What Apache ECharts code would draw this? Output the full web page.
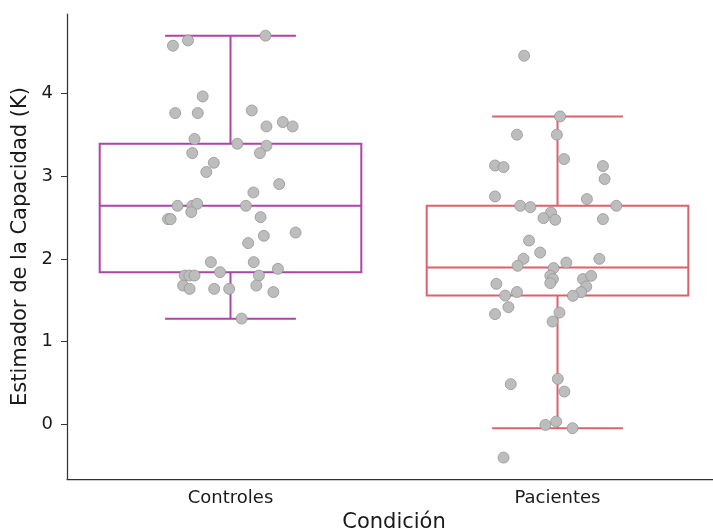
<!DOCTYPE html>
<html>
<head>
<meta charset="utf-8">
<script src="https://cdn.jsdelivr.net/npm/echarts@6/dist/echarts.min.js"></script>
<style>
  html, body { margin: 0; padding: 0; background: #fff; }
  #chart { width: 713px; height: 532px; }
</style>
</head>
<body>
<div id="chart"></div>
<script>
var categories = ['Controles', 'Pacientes']
var boxColors = ['#ad44a8', '#d9636d']
var yTicks = [0, 1, 2, 3, 4]

// [low whisker, Q1, median, Q3, high whisker]
var controlesBox = [1.276, 1.840, 2.642, 3.392, 4.698]
var pacientesBox = [-0.046, 1.557, 1.896, 2.642, 3.722]

// horizontal offset of each point from its category centre (stripplot jitter)
var controlesJitter = [-0.176, -0.130, 0.107, -0.085, -0.169, -0.100, 0.065, 0.110, 0.160, 0.190,
  -0.110, 0.021, 0.110, -0.117, 0.090, -0.051, -0.074, 0.149, 0.070, -0.162,
  -0.117, -0.102, -0.120, 0.047, -0.191, -0.183, 0.092, 0.102, 0.199, 0.054,
  -0.060, 0.071, 0.145, -0.032, -0.140, -0.126, -0.110, 0.087, -0.145, -0.125,
  -0.050, -0.004, 0.079, 0.131, 0.034]
var controlesValues = [4.577, 4.641, 4.698, 3.964, 3.763, 3.763, 3.794, 3.601, 3.654, 3.601,
  3.449, 3.392, 3.368, 3.279, 3.279, 3.162, 3.050, 2.904, 2.803, 2.642,
  2.642, 2.666, 2.566, 2.642, 2.481, 2.481, 2.505, 2.279, 2.319, 2.191,
  1.961, 1.961, 1.880, 1.840, 1.799, 1.799, 1.799, 1.799, 1.678, 1.638,
  1.638, 1.638, 1.678, 1.599, 1.279]

var pacientesJitter = [-0.102, 0.008, -0.124, -0.002, 0.020, -0.191, -0.165, 0.139, 0.144, -0.191,
  -0.114, -0.083, 0.090, 0.180, -0.020, -0.043, -0.007, 0.139, -0.087, -0.053,
  -0.104, -0.122, 0.027, 0.128, -0.012, -0.022, -0.014, -0.022, 0.078, 0.103,
  0.088, -0.187, -0.124, -0.160, 0.072, 0.047, -0.150, -0.191, 0.006, -0.015,
  -0.143, 0.001, 0.021, -0.037, -0.004, 0.046, -0.165]
var pacientesValues = [4.456, 3.722, 3.501, 3.501, 3.207, 3.129, 3.110, 3.122, 2.965, 2.755,
  2.642, 2.626, 2.723, 2.642, 2.561, 2.493, 2.473, 2.481, 2.222, 2.077,
  2.001, 1.917, 1.956, 2.001, 1.889, 1.796, 1.756, 1.707, 1.756, 1.796,
  1.666, 1.699, 1.599, 1.557, 1.599, 1.554, 1.417, 1.333, 1.352, 1.243,
  0.486, 0.550, 0.397, -0.006, 0.034, -0.046, -0.401]

var chart = echarts.init(document.getElementById('chart'))

function stripData(idx, jitter, values) {
  return values.map(function(v, i) { return [idx + jitter[i], v] })
}

var boxData = [[0].concat(controlesBox), [1].concat(pacientesBox)]

function renderBox(params, api) {
  var idx = api.value(0)
  var color = boxColors[idx]
  var half = api.size([0.4, 0])[0]
  var cap = api.size([0.2, 0])[0]
  var lo = api.coord([idx, api.value(1)])
  var q1 = api.coord([idx, api.value(2)])
  var med = api.coord([idx, api.value(3)])
  var q3 = api.coord([idx, api.value(4)])
  var hi = api.coord([idx, api.value(5)])
  var x = lo[0]
  var st = { stroke: color, lineWidth: 2, fill: null }
  return {
    type: 'group',
    children: [
      { type: 'rect', shape: { x: x - half, y: q3[1], width: half * 2, height: q1[1] - q3[1] }, style: st },
      { type: 'line', shape: { x1: x - half, y1: med[1], x2: x + half, y2: med[1] }, style: st },
      { type: 'line', shape: { x1: x, y1: q3[1], x2: x, y2: hi[1] }, style: st },
      { type: 'line', shape: { x1: x, y1: q1[1], x2: x, y2: lo[1] }, style: st },
      { type: 'line', shape: { x1: x - cap, y1: hi[1], x2: x + cap, y2: hi[1] }, style: st },
      { type: 'line', shape: { x1: x - cap, y1: lo[1], x2: x + cap, y2: lo[1] }, style: st }
    ]
  }
}

var pointStyle = { color: '#bdbdbd', borderColor: '#969696', borderWidth: 0.8, opacity: 1 }

chart.setOption({
  animation: false,
  textStyle: { fontFamily: 'DejaVu Sans' },
  grid: { left: 67, top: 14, width: 654, height: 465, outerBoundsMode: 'none' },
  xAxis: [{
    type: 'category',
    data: categories,
    name: 'Condición',
    nameLocation: 'middle',
    nameGap: 33,
    nameTextStyle: { fontSize: 21, color: '#1a1a1a' },
    axisLine: { onZero: false, lineStyle: { color: '#333', width: 1.25 } },
    axisTick: { alignWithLabel: true, length: 6, lineStyle: { color: '#333' } },
    axisLabel: { fontSize: 18, color: '#1a1a1a', margin: 10 },
    splitLine: { show: false }
  }, {
    type: 'value',
    min: -0.5,
    max: 1.5,
    show: false
  }],
  yAxis: {
    type: 'value',
    min: -0.66,
    max: 4.96,
    name: 'Estimador de la Capacidad (K)',
    nameLocation: 'middle',
    nameGap: 32,
    nameTextStyle: { fontSize: 21, color: '#1a1a1a' },
    axisLine: { show: true, onZero: false, lineStyle: { color: '#333', width: 1.25 } },
    axisTick: { show: true, length: 6, customValues: yTicks, lineStyle: { color: '#333' } },
    axisLabel: { fontSize: 18, color: '#1a1a1a', margin: 14, customValues: yTicks },
    splitLine: { show: false }
  },
  series: [{
    type: 'custom',
    xAxisIndex: 1,
    renderItem: renderBox,
    encode: { x: 0, y: [1, 2, 3, 4, 5] },
    data: boxData,
    z: 1
  }, {
    type: 'scatter',
    xAxisIndex: 1,
    symbolSize: 11,
    itemStyle: pointStyle,
    data: stripData(0, controlesJitter, controlesValues),
    z: 3
  }, {
    type: 'scatter',
    xAxisIndex: 1,
    symbolSize: 11,
    itemStyle: pointStyle,
    data: stripData(1, pacientesJitter, pacientesValues),
    z: 3
  }]
})
</script>
</body>
</html>
